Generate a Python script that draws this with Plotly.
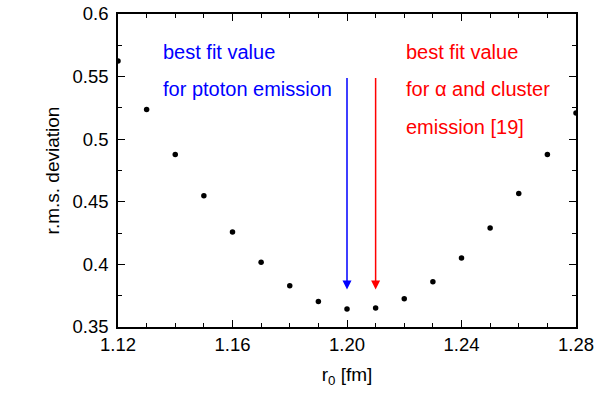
import plotly.graph_objects as go

r0 = [1.12, 1.13, 1.14, 1.15, 1.16, 1.17, 1.18, 1.19, 1.20, 1.21, 1.22, 1.23, 1.24, 1.25, 1.26, 1.27, 1.28]
rms = [0.5624, 0.5237, 0.4878, 0.4549, 0.4259, 0.4018, 0.3829, 0.3704, 0.3643, 0.3651, 0.3725, 0.3861, 0.4052, 0.4291, 0.4567, 0.4878, 0.5210]

best_proton = 1.20
best_alpha = 1.21
arrow_top = 0.55
arrow_tip = 0.380

blue_lines = ["best fit value", "for ptoton emission"]
red_lines = ["best fit value", "for α and cluster", "emission [19]"]
blue_x = 1.135
red_x = 1.22
text_y = [0.5696, 0.5404, 0.5099]

FONT = "Liberation Sans, Arial, Helvetica, sans-serif"

fig = go.Figure()
fig.add_trace(go.Scatter(x=r0, y=rms, mode="markers",
                         marker=dict(color="black", size=5.5),
                         showlegend=False, hoverinfo="skip"))

annotations = []
for xv, col in [(best_proton, "blue"), (best_alpha, "red")]:
    annotations.append(dict(x=xv, y=arrow_tip, ax=xv, ay=arrow_top,
                            xref="x", yref="y", axref="x", ayref="y",
                            text="", showarrow=True, arrowhead=2, arrowsize=1.2,
                            arrowwidth=1.5, arrowcolor=col))
for i, t in enumerate(blue_lines):
    annotations.append(dict(x=blue_x, y=text_y[i], xref="x", yref="y", text=t,
                            showarrow=False, xanchor="left", yanchor="middle",
                            font=dict(color="blue", size=20, family=FONT)))
for i, t in enumerate(red_lines):
    annotations.append(dict(x=red_x, y=text_y[i], xref="x", yref="y", text=t,
                            showarrow=False, xanchor="left", yanchor="middle",
                            font=dict(color="red", size=20, family=FONT)))

axis_common = dict(showgrid=False, zeroline=False, showline=True, linecolor="black",
                   linewidth=1.5, mirror="ticks", ticks="inside", ticklen=7,
                   tickwidth=1, tickcolor="black", ticklabeloverflow="allow",
                   tickfont=dict(size=18.5, color="black", family=FONT))

fig.update_xaxes(range=[1.12, 1.28], dtick=0.04, tick0=1.12, tickformat=".2f",
                 minor=dict(dtick=0.01, ticks="inside", ticklen=4, tickcolor="black"),
                 title=dict(text="r<sub>0</sub> [fm]", font=dict(size=19, color="black", family=FONT),
                            standoff=14),
                 ticklabelstandoff=0,
                 **axis_common)
fig.update_yaxes(range=[0.35, 0.6], dtick=0.05, tick0=0.35,
                 minor=dict(dtick=0.025, ticks="inside", ticklen=4, tickcolor="black"),
                 title=dict(text="r.m.s. deviation", font=dict(size=19, color="black", family=FONT),
                            standoff=8),
                 ticklabelstandoff=4,
                 **axis_common)

fig.update_layout(width=614, height=394,
                  margin=dict(l=118, r=38, t=14, b=67, autoexpand=False),
                  plot_bgcolor="white", paper_bgcolor="white",
                  annotations=annotations,
                  font=dict(family=FONT, color="black"))

# remove the default page margin so the figure fills the window exactly
fig.write_html("out.html", config={"displayModeBar": False},
               post_script="document.body.style.margin='0px';")
